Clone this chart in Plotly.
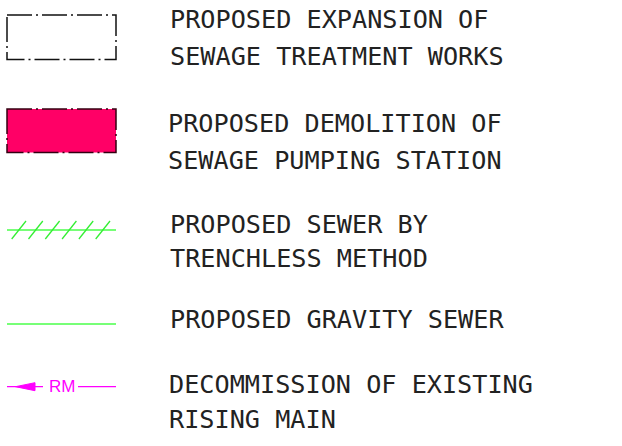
import plotly.graph_objects as go

# ---- legend content ----
label_lines = [
    ["PROPOSED EXPANSION OF", "SEWAGE TREATMENT WORKS"],
    ["PROPOSED DEMOLITION OF", "SEWAGE PUMPING STATION"],
    ["PROPOSED SEWER BY", "TRENCHLESS METHOD"],
    ["PROPOSED GRAVITY SEWER"],
    ["DECOMMISSION OF EXISTING", "RISING MAIN"],
]
symbol_kinds = ["dashrect", "fillrect", "hatchline", "line", "rm"]
rm_tag = "RM"

# ---- layout constants ----
W, H = 622, 446
text_x = [168, 166, 168, 168, 167]
line_y = [[19.5, 56], [123, 160], [224, 258], [319.5], [384, 419]]
sym_x0, sym_x1 = 7, 116

fig = go.Figure()
shapes = []
annotations = []

FONT = "DejaVu Sans Mono"

for i, lines in enumerate(label_lines):
    for j, txt in enumerate(lines):
        annotations.append(dict(
            x=text_x[i], y=line_y[i][j], xref="x", yref="y",
            text=txt, showarrow=False, xanchor="left", yanchor="middle",
            font=dict(family=FONT, size=25.2, color="#222222"),
        ))

dashdot = "25px,4px,2px,4px"

for i, kind in enumerate(symbol_kinds):
    if kind == "dashrect":
        shapes.append(dict(type="rect", x0=sym_x0, x1=sym_x1, y0=15, y1=59.5,
                           line=dict(color="#111111", width=1.5, dash=dashdot),
                           fillcolor="rgba(0,0,0,0)"))
    elif kind == "fillrect":
        shapes.append(dict(type="rect", x0=sym_x0, x1=sym_x1, y0=109, y1=152.5,
                           line=dict(width=0), fillcolor="#FF0066"))
        shapes.append(dict(type="rect", x0=sym_x0, x1=sym_x1, y0=109, y1=152.5,
                           line=dict(color="#330011", width=1.5, dash=dashdot),
                           fillcolor="rgba(0,0,0,0)"))
    elif kind == "hatchline":
        yc = 230
        shapes.append(dict(type="line", x0=sym_x0, x1=sym_x1, y0=yc, y1=yc,
                           line=dict(color="#77FF77", width=2)))
        for k in range(6):
            xb = 11.7 + k * 16.8
            shapes.append(dict(type="line", x0=xb, x1=xb + 14.3, y0=239, y1=221,
                               line=dict(color="#33EE33", width=1.3)))
    elif kind == "line":
        yc = 324
        shapes.append(dict(type="line", x0=sym_x0, x1=sym_x1, y0=yc, y1=yc,
                           line=dict(color="#77FF77", width=2)))
    elif kind == "rm":
        yc = 386.7
        col = "#FF00FF"
        shapes.append(dict(type="line", x0=sym_x0, x1=43, y0=yc, y1=yc,
                           line=dict(color=col, width=1.2)))
        shapes.append(dict(type="path",
                           path=f"M 15.5 {yc} L 35 {yc-4} L 35 {yc+4} Z",
                           fillcolor=col, line=dict(color=col, width=1)))
        shapes.append(dict(type="line", x0=78, x1=sym_x1, y0=yc, y1=yc,
                           line=dict(color=col, width=1.2)))
        annotations.append(dict(
            x=62, y=yc, xref="x", yref="y", text=rm_tag, showarrow=False,
            xanchor="center", yanchor="middle",
            font=dict(family="Liberation Sans", size=17, color=col),
        ))

fig.update_layout(
    width=W, height=H,
    margin=dict(l=0, r=0, t=0, b=0),
    paper_bgcolor="white", plot_bgcolor="white",
    xaxis=dict(range=[0, W], visible=False, fixedrange=True),
    yaxis=dict(range=[H, 0], visible=False, fixedrange=True),
    shapes=shapes, annotations=annotations, showlegend=False,
    hovermode=False,
)

fig.write_html(
    "out.html",
    config={"displayModeBar": False, "staticPlot": True},
    post_script="document.body.style.margin='0';document.body.style.overflow='hidden';",
)
